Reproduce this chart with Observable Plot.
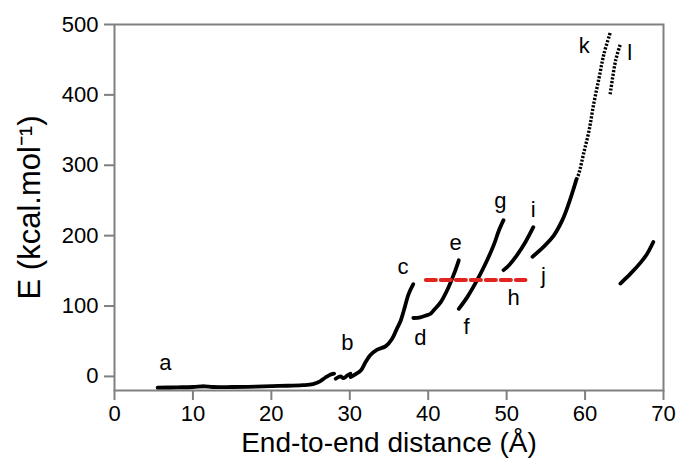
<!DOCTYPE html>
<html><head><meta charset="utf-8">
<script src="https://cdn.jsdelivr.net/npm/d3@7"></script>
<script src="https://cdn.jsdelivr.net/npm/@observablehq/plot@0.6"></script>
<style>body{margin:0;background:#fff;}</style>
</head><body><div id="chart"></div>
<script>
// Solid black segments
const segA_x = [5.5, 8, 10, 11.5, 12.5, 15, 18, 21, 24, 25.3, 26.2, 26.9, 27.5, 28.0];
const segA_y = [-16, -15.5, -15, -14, -15, -15, -14.5, -13.5, -12.5, -11, -7, -1.5, 2.5, 4];
const segB1_x = [28.2, 28.8, 29.2, 29.7, 30.1];
const segB1_y = [-3.3, 0, -2.4, 1.4, 3.8];
const segBC_x = [30.1, 30.7, 31.4, 32.0, 32.6, 33.5, 34.6, 35.4, 36.0, 36.5, 36.9, 37.5, 38.1];
const segBC_y = [-1, 2.8, 8.5, 20, 30, 38, 43, 53.5, 67.6, 79.5, 94, 117, 131];
const segDE_x = [38.1, 39.0, 39.7, 40.3, 40.7, 41.6, 42.4, 43.3, 43.9];
const segDE_y = [83, 84, 86.5, 89, 94, 105.6, 122, 146, 165];
const segFG_x = [43.9, 45.0, 46.2, 47.3, 48.4, 49.0, 49.6];
const segFG_y = [96, 113, 136, 160, 188, 207, 222];
const segHI_x = [49.6, 50.3, 51.3, 52.4, 53.4];
const segHI_y = [151, 158, 172, 191, 212];
const segJ_x = [53.3, 54.7, 56.0, 57.1, 57.9, 58.6, 58.9];
const segJ_y = [170, 184, 200, 222, 245, 269, 280];
const segM_x = [64.5, 65.8, 67.1, 67.9, 68.7];
const segM_y = [132, 146, 162, 174, 191];
// Dotted segments
const segK_x = [58.9, 59.2, 59.8, 60.5, 61.1, 61.8, 62.4, 63.2];
const segK_y = [280, 288, 316, 349, 387, 425, 458, 488];
const segL_x = [63.2, 63.9, 64.5];
const segL_y = [401, 449, 472];
// Red dashed reference
const refX = [39.7, 52.4];
const refE = 137;
// Letter labels
const labelNames = ["a","b","c","d","e","f","g","h","i","j","k","l"];
const labelX = [6.5, 29.7, 36.8, 39.0, 43.5, 44.9, 49.2, 50.9, 53.4, 54.7, 59.9, 65.7];
const labelY = [18.5, 47, 156, 54, 189, 70, 250, 111, 236, 143, 470, 460];
const xTicks = [0, 10, 20, 30, 40, 50, 60, 70];
const yTicks = [0, 100, 200, 300, 400, 500];

function rows(name, xs, ys) { return xs.map((x, i) => ({seg: name, x, y: ys[i]})); }
const solid = [
  ...rows("a", segA_x, segA_y), ...rows("b1", segB1_x, segB1_y), ...rows("bc", segBC_x, segBC_y),
  ...rows("de", segDE_x, segDE_y), ...rows("fg", segFG_x, segFG_y), ...rows("hi", segHI_x, segHI_y),
  ...rows("j", segJ_x, segJ_y), ...rows("m", segM_x, segM_y)
];
const dotted = [...rows("k", segK_x, segK_y), ...rows("l", segL_x, segL_y)];
const ref = refX.map(x => ({x, y: refE}));
const labels = labelNames.map((t, i) => ({t, x: labelX[i], y: labelY[i]}));

const chart = Plot.plot({
  width: 677, height: 470,
  marginLeft: 114, marginRight: 14, marginTop: 24, marginBottom: 80,
  style: {fontFamily: "'Liberation Sans', Arial, sans-serif", background: "white", color: "black"},
  x: {domain: [0, 70]},
  y: {domain: [-20, 500]},
  marks: [
    Plot.axisX({ticks: xTicks, tickSize: 10, tickPadding: 5, fontSize: 22, stroke: "#808080", strokeWidth: 2, fill: "black", label: null}),
    Plot.axisY({ticks: yTicks, tickSize: 10, tickPadding: 6, fontSize: 22, stroke: "#808080", strokeWidth: 2, fill: "black", label: null}),
    Plot.frame({stroke: "#808080", strokeWidth: 2}),
    Plot.line(solid, {x: "x", y: "y", z: "seg", stroke: "black", strokeWidth: 3.8, strokeLinecap: "round", strokeLinejoin: "round", curve: "catmull-rom"}),
    Plot.line(dotted, {x: "x", y: "y", z: "seg", stroke: "black", strokeWidth: 3.4, strokeLinecap: "butt", strokeDasharray: "2.2,1.5", curve: "catmull-rom"}),
    Plot.line(ref, {x: "x", y: "y", stroke: "#e3231f", strokeWidth: 4, strokeDasharray: "10,5"}),
    Plot.text(labels, {x: "x", y: "y", text: "t", fontSize: 22, fill: "black"}),
    Plot.text(["End-to-end distance (Å)"], {text: d => d, frameAnchor: "bottom", textAnchor: "middle", dy: 61, fontSize: 28, fill: "black", letterSpacing: 0.7}),
    Plot.text(["E (kcal.mol⁻¹)"], {text: d => d, frameAnchor: "left", textAnchor: "middle", rotate: -90, dx: -84, dy: 0, fontSize: 31, fill: "black", letterSpacing: 2})
  ]
});
document.getElementById("chart").appendChild(chart);
</script>
</body></html>
